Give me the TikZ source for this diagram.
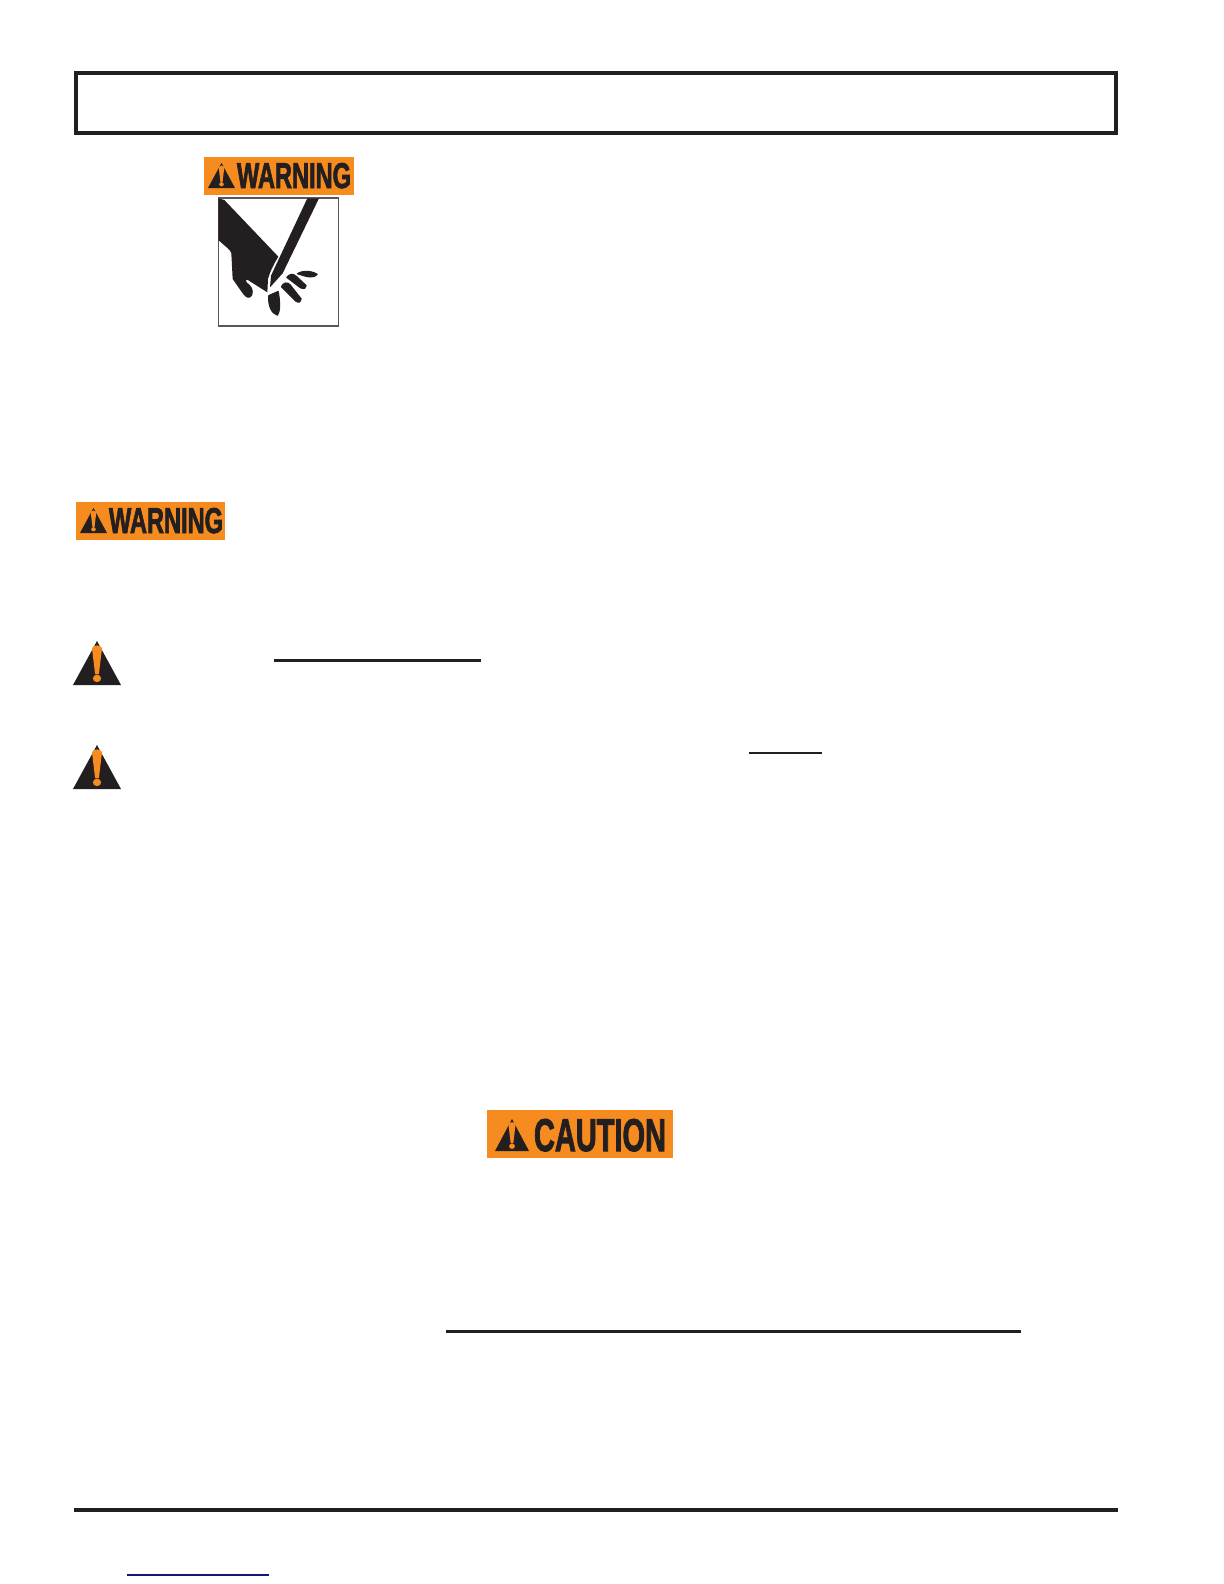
\documentclass[tikz,border=0pt]{standalone}
\usepackage{graphicx}
\usepackage{fontspec}
\setmainfont{Liberation Sans}[BoldFeatures={FakeBold=2.5}]
\definecolor{signorange}{HTML}{F68B1F}
\definecolor{ink}{HTML}{231F20}
\definecolor{linkblue}{HTML}{141482}
\tikzset{
  rule/.style={draw=ink,line width=1.4pt},
  banner/.style={fill=signorange},
  inkfill/.style={fill=ink},
  fingerfill/.style={fill=ink,draw=ink,line width=0.9pt,line join=round},
  glyph/.style={inner sep=0pt,outer sep=0pt,anchor=north west,text=ink}
}
% triangle with exclamation mark: left x, top y, width, height (px)
\newcommand{\signtri}[6]{%
  \fill[#5] (#1,#2+#4) -- (#1+#3/2,#2) -- (#1+#3,#2+#4) -- cycle;
  \fill[#6] (#1+#3/2-#3*0.105,#2+#4*0.16) .. controls (#1+#3/2-#3*0.07,#2+#4*0.08) and (#1+#3/2+#3*0.07,#2+#4*0.08) .. (#1+#3/2+#3*0.105,#2+#4*0.16)
     -- (#1+#3/2+#3*0.04,#2+#4*0.75) -- (#1+#3/2-#3*0.04,#2+#4*0.75) -- cycle;
  \fill[#6] (#1+#3/2,#2+#4*0.85) ellipse ({#3*0.085} and {#4*0.085});
}
\begin{document}
\begin{tikzpicture}[x=0.6pt,y=-0.6pt]
\useasboundingbox (0,0) rectangle (1224,1584);
\fill[white] (0,0) rectangle (1224,1584);

% header frame
\draw[draw=ink,line width=2.4pt] (76,73) rectangle (1116,133);

% first warning banner
\fill[banner] (204,157) rectangle (354,195);
\signtri{208}{163}{27}{25}{inkfill}{signorange}
\node[glyph] (warnA) at (237,163) {\resizebox{68.4pt}{15pt}{\textbf{WARNING}}};

% cutting-hazard pictogram
\draw[draw=ink!75,line width=0.8pt] (218.5,198) rectangle (338.5,326);
\begin{scope}[shift={(190,145)},x=0.2pt,y=-0.2pt]
  \fill[inkfill] (85,160) -- (103,165) -- (265,335) .. controls (250,360) and (240,380) .. (234,402)
     -- (232,442) -- (172,404) .. controls (168,404) and (165,408) .. (170,412)
     .. controls (184,422) and (192,434) .. (187,450) .. controls (180,464) and (168,460) .. (158,445)
     -- (128,402) -- (124,325) .. controls (122,315) and (110,308) .. (85,285) -- cycle;
  \fill[inkfill] (352,160) -- (387,160) -- (278,385) -- (240,427) -- (243,392) -- cycle;
  \filldraw[fingerfill] (237,452) .. controls (245,448) and (255,445) .. (264,440)
     .. controls (270,470) and (270,500) .. (262,510) .. controls (245,505) and (234,480) .. (237,452) -- cycle;
  \filldraw[fingerfill] (275,425) .. controls (280,414) and (292,410) .. (300,420)
     -- (333,462) .. controls (334,470) and (326,474) .. (318,468) -- cycle;
  \filldraw[fingerfill] (291,397) .. controls (296,390) and (308,384) .. (318,394)
     -- (348,422) .. controls (348,430) and (342,432) .. (332,428) -- cycle;
  \filldraw[fingerfill] (323,386) .. controls (335,378) and (360,376) .. (381,388)
     .. controls (375,396) and (360,396) .. (350,394) -- cycle;
\end{scope}

% second warning banner
\fill[banner] (76,502) rectangle (225,540);
\signtri{80}{508}{27}{25}{inkfill}{signorange}
\node[glyph] (warnB) at (109,508) {\resizebox{68.4pt}{15pt}{\textbf{WARNING}}};

% alert triangles
\signtri{73}{641}{48}{44}{inkfill}{signorange}
\signtri{73}{745}{48}{44}{inkfill}{signorange}

% underlines
\draw[rule] (274,660.5) -- (481,660.5);
\draw[rule] (749,753) -- (822,753);
\draw[rule] (446,1331.5) -- (1021,1331.5);

% caution banner
\fill[banner] (487,1110) rectangle (673,1158);
\signtri{495}{1119}{34}{32}{inkfill}{signorange}
\node[glyph] (caut) at (534,1119) {\resizebox{79.2pt}{19.2pt}{\textbf{CAUTION}}};

% footer rule and link line
\draw[draw=ink,line width=2.4pt] (74,1510) -- (1118,1510);
\draw[draw=linkblue,line width=0.9pt] (127,1575) -- (269,1575);
\end{tikzpicture}
\end{document}
